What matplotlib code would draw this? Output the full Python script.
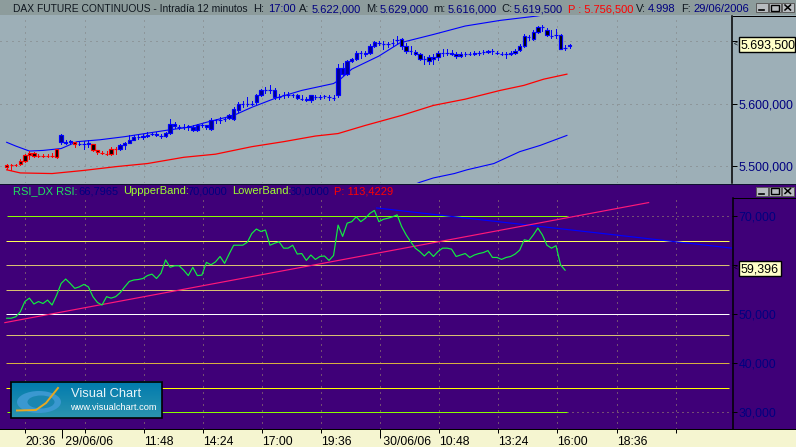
import numpy as np
import matplotlib
matplotlib.use("Agg")
import matplotlib.pyplot as plt
from matplotlib.patches import Rectangle, Ellipse

# ---------- data ----------
opens = [5499,5501,5502,5504,5508,5517,5521,5516,5516,5516,5516,
 5515,5549,5539,5539,5538,5535,5536,5536,5535,5525,5521,5520,5519,
 5528,5528,5533,5537,5542,5546,5547,5548,5551,5551,5548,5548,5553,5568,5563,5563,5564,5562,5558,5565,5565,5560,5573,5574,5576,5577,5576,5589,5599,5599,5599,5602,5614,5622,5621,5622,5610,5613,5614,
 5613,5614,5608,5607,5605,5610,5611,5612,5611,5609,5613,5657,5647,5668,5671,5681,5680,5681,5692,5697,5695,5695,5697,5701,
 5703,5692,5684,5683,5679,5671,5668,5674,5674,5681,5681,5681,5680,5676,5679,5679,5679,5681,5682,5683,5684,5681,5680,5680,5680,5681,5685,5692,5706,5704,5715,5722,5718,5708,5710,5710,5689,5692]
closes = [5501,5501.5,5502,5508,5517,5521,5516,5516,5516,5516,5516,
 5527,5539,5537,5540,5536,5535,5536,5537,5525,5522,5521,5519,5528,
 5528,5533,5537,5541,5546,5547,5548,5549,5552,5549,5548,5553,5568,5564,5563,5563,5562,5558,5565,5565,5563,5574,5573,5574,5576,5582,5591.5,5599.5,5599,5599,5600,5614,5622,5622,5621,5610,5611,5613,5614,
 5613,5609,5608,5605,5613,5610,5611,5612,5611,5609,5657,5647,5668,5671,5681,5681,5681,5692,5699,5697,5695,5695,5697,5701,
 5692,5684,5684,5679,5671,5671,5675,5671,5681,5681,5681,5680,5676,5679,5679,5679,5681,5681,5683,5684,5684,5681,5680,5680,5681,5684,5692,5708,5706,5715,5722,5722,5710,5708,5710,5688,5689,5693]
highs = [5503,5504,5504,5511,5519,5524,5523,5520,5520,5520,5521,
 5528,5552,5542,5542,5539,5538,5540,5542,5536,5526,5524,5524,5530,
 5530,5535,5539,5549,5549,5550,5552,5554,5554,5554,5552,5554,5575,5570,5566,5568,5566,5565,5567,5568,5566,5577,5576,5578,5578,5584,5594,5602,5604,5610,5604,5615,5623,5627,5629,5625,5616,5618,5618,
 5616,5616,5613,5611,5614,5614,5614,5614,5614,5614,5663,5665,5669,5673,5684,5684,5684,5695,5700,5700,5700,5699,5703,5708,
 5705,5697,5692,5685,5681,5676,5678,5679,5684,5687,5687,5685,5682,5682,5683,5682,5684,5684,5685,5686,5688,5684,5683,5683,5684,5688,5695,5712,5710,5717,5724,5725,5721,5718,5720,5712,5694,5695]
lows = [5496,5494,5500,5502,5506,5511,5514,5514,5514,5514,5514,
 5513,5536,5535,5536,5531,5533,5528,5531,5524,5520,5519,5517,5518,
 5519,5526,5528,5537,5541,5544,5544,5546,5549,5548,5545,5547,5552,5561,5560,5560,5558,5556,5556,5562,5560,5558,5569,5569,5572,5575,5574,5587,5595,5596,5597,5600,5612,5617,5617,5608,5608,5609,5610,
 5610,5607,5606,5604,5603,5607,5608,5609,5606,5606,5610,5646,5646,5666,5669,5673,5676,5680,5690,5694,5688,5690,5692,5695,
 5687,5681,5680,5678,5669,5664,5664,5663,5669,5676,5678,5678,5673,5675,5676,5677,5677,5678,5680,5681,5680,5680,5678,5673,5678,5680,5684,5690,5701,5701,5713,5716,5708,5705,5705,5687,5686,5689]
red_bars = list(range(0, 12)) + [15] + list(range(19, 25))

ma_x = [0,3,10,17,24,31,39,46,54,61,68,73,79,87,94,101,108.7,113.9,118.3,123.4]
ma_y = [5494,5489,5488,5493,5499,5504,5514,5519,5531,5539,5548,5552,5565,5581,5597,5607,5621,5629,5639,5647]
up_x = [0,2,5,8,12,15.5,20.5,26,35,40,44,50,54,59,65,72,73.5,76,82,86.6,94,101,108.7,116.8,123.4]
up_y = [5538,5532,5524,5525,5528,5539,5542,5547,5557,5562,5570,5581,5594,5608,5621,5632,5639,5655,5676,5697,5710.5,5724,5733,5740,5748]
lo_x = [88,91,94,98.6,101.4,107.3,113,117.5,123.4]
lo_y = [5465,5474,5481,5488,5494,5504,5523,5533,5549]

rsi = [49.2,49.2,49.5,50.5,52.6,53.3,52.1,52.6,52.2,52.9,51.9,53.9,56.3,57.2,56.3,55.3,55.6,56.1,55.6,53.6,
 52.4,51.9,53.6,53.3,53.6,54.4,55.6,56.7,57.0,57.1,57.3,57.9,58.2,57.3,58.4,61.1,59.6,59.9,59.9,59.0,
 57.9,59.6,57.9,58.0,60.6,60.1,60.7,61.8,60.4,62.3,64.1,64.1,64.1,64.7,66.5,67.4,66.9,67.2,64.1,64.5,
 64.8,63.5,63.5,64.1,62.3,62.4,61.0,62.1,61.2,61.8,61.9,61.0,62.0,68.2,65.9,68.6,68.9,69.9,68.9,69.6,
 70.6,71.2,68.9,69.4,69.6,69.9,70.3,67.9,66.2,64.8,63.5,62.8,61.9,62.8,61.8,62.8,63.5,63.5,63.3,61.8,
 62.1,62.4,61.6,62.1,62.4,62.6,63.0,61.6,61.6,61.2,61.6,61.8,62.3,63.1,65.2,65.0,66.2,67.6,66.2,64.1,
 63.5,64.0,60.1,59.0]
levels = [65, 60, 54.9, 50, 45.7, 40, 35]
level_colors = ['#ffff55', '#d8c070', '#d8c070', '#ffffff', '#d8c070', '#d8b040', '#ffff00']
bands = [70, 30]
pink_x, pink_y = [-0.4, 141.4], [48.3, 72.8]
trend_x, trend_y = [81.5, 159.8], [71.7, 63.5]

x_ticks = [4.1, 12.25, 17.3, 30.3, 43.3, 56.3, 69.3, 82.2, 95.3, 108.3, 121.3, 134.5, 147.5]
x_labels = ['20:36', ' 29/06/06', '', '11:48', '14:24', '17:00', '19:36', ' 30/06/06', '10:48', '13:24', '16:00', '18:36', '']
grid_x = [4.1, 17.3, 30.3, 43.3, 56.3, 69.3, 82.2, 95.3, 108.3, 121.3, 134.5, 147.5]
price_ticks = [5500, 5600, 5700]
price_labels = ['5.500,000', '5.600,000', '']
rsi_ticks = [30, 40, 50, 60, 70]
rsi_labels = ['30,000', '40,000', '50,000', '', '70,000']

# ---------- style ----------
W, H = 796, 447
BG_TOP = '#9dafb7'; BG_TITLE = '#8d9c9c'; PURPLE = '#3f0078'; CREAM = '#f5f5d0'; NAVY = '#000080'
FONT = 'Liberation Sans'
FS = 8.7
PX = 0.72
plt.rcParams['font.family'] = FONT

fig = plt.figure(figsize=(W/100, H/100), dpi=100, facecolor=PURPLE)

def axes_px(x0, y0, x1, y1, **kw):
    return fig.add_axes([x0/W, 1-y1/H, (x1-x0)/W, (y1-y0)/H], **kw)

# background chrome
bg = axes_px(0, 0, W, H, zorder=0); bg.set_xlim(0, W); bg.set_ylim(H, 0); bg.axis('off')
bg.add_patch(Rectangle((0, 0), W, 16, fc=BG_TITLE, ec='none'))
bg.add_patch(Rectangle((0, 15), W, 169, fc=BG_TOP, ec='none'))
bg.add_patch(Rectangle((0, 184), W, 245, fc=PURPLE, ec='none'))
bg.add_patch(Rectangle((0, 429), W, 18, fc=CREAM, ec='none'))

bar_w = 4.54
x0_px = 6.67
def xlim_for(a, b): return ((a-x0_px)/bar_w, (b-x0_px)/bar_w)
xl = xlim_for(0, 732)

# ---------- price panel ----------
ax = axes_px(0, 16, 732, 183, zorder=2)
ax.patch.set_alpha(0)
p_at = lambda y: 5500 + (166-y)/0.627
ax.set_xlim(*xl); ax.set_ylim(p_at(183), p_at(15.5))
for s in ax.spines.values(): s.set_visible(False)
ax.spines['right'].set_visible(True); ax.spines['right'].set_linewidth(1.1)
ax.yaxis.tick_right(); ax.set_yticks(price_ticks); ax.set_yticklabels(price_labels)
ax.tick_params(axis='y', length=3.8, width=PX, pad=1, labelsize=FS+0.2, labelcolor=NAVY)
ax.set_xticks([])
ax.hlines(price_ticks, xl[0], xl[1], color='#7f7f7f', lw=PX, ls=(0, (1, 5)), zorder=1)
ax.vlines(grid_x, p_at(183), p_at(16), color='#7f7f7f', lw=PX, ls=(0, (1, 5)), zorder=1)

xs = np.arange(len(closes))
for i in xs:
    o, c, h, l = opens[i], closes[i], highs[i], lows[i]
    col = '#ff0000' if i in red_bars else '#0000ff'
    face = 'black' if (i in red_bars or i >= 87) else '#000090'
    ax.vlines(i, l, h, color=col, lw=PX, zorder=3, antialiased=False)
    ax.bar(i, c-o, bottom=o, width=0.75, fc=face, ec=col, lw=0.85, zorder=4)
ax.plot(ma_x, ma_y, color='#ff0000', lw=0.9, zorder=2)
ax.plot(up_x, up_y, color='#0000ff', lw=0.8, zorder=2)
ax.plot(lo_x, lo_y, color='#0000ff', lw=0.8, zorder=2)

# ---------- RSI panel ----------
ar = axes_px(0, 184, 732, 429, zorder=2)
ar.patch.set_alpha(0)
r_at = lambda y: 70 - (y-216.3)/4.9
ar.set_xlim(*xl); ar.set_ylim(r_at(429), r_at(184))
for s in ar.spines.values(): s.set_visible(False)
ar.yaxis.tick_right(); ar.set_yticks(rsi_ticks); ar.set_yticklabels(rsi_labels)
ar.tick_params(axis='y', length=3.8, width=PX, pad=1, labelsize=FS+0.2, labelcolor=NAVY)
ar.set_xticks(x_ticks); ar.set_xticklabels(x_labels, ha='left')
ar.tick_params(axis='x', length=3.2, width=PX, pad=2.0, labelsize=FS, labelcolor='black')
for t, lab in zip(ar.xaxis.get_major_ticks(), x_labels):
    if '/' in lab:
        t.tick1line.set_markersize(6.5)

ar.vlines(grid_x, r_at(429), r_at(198), color='#a89a70', lw=PX, ls=(0, (1, 5)), zorder=1)
xlim_end = xlim_for(0, 729)
ar.hlines(levels, xlim_for(6, 0)[0], xlim_end[1], colors=level_colors, lw=PX, zorder=2)
ar.hlines(bands, xlim_for(7, 0)[0], xlim_for(567, 0)[0], color='#88ff00', lw=PX, zorder=2)
ar.hlines(bands, xlim_for(567, 0)[0], xl[1], color='#a89a70', lw=PX, ls=(0, (1, 4)), zorder=1)
ar.plot(trend_x, trend_y, color='#0000ff', lw=0.85, zorder=3)
ar.plot(pink_x, pink_y, color='#ff1878', lw=0.85, zorder=4)
ar.plot(np.arange(len(rsi)), rsi, color='#10f040', lw=0.85, zorder=5)

# ---------- foreground chrome ----------
fg = axes_px(0, 0, W, H, zorder=5); fg.set_xlim(0, W); fg.set_ylim(H, 0); fg.axis('off'); fg.patch.set_alpha(0)
fg.plot([0, W], [429, 429], color='black', lw=PX)
fg.plot([0, W], [183.5, 183.5], color='#101030', lw=PX)
fg.plot([732.5, W], [15.5, 15.5], color='black', lw=PX)
fg.plot([732.5, W], [198, 198], color='black', lw=PX)
fg.plot([732.5, 732.5], [198, 429], color='black', lw=1.1)

DARK = '#101820'
title_parts = [(13, 'DAX FUTURE CONTINUOUS - Intradía 12 minutos', DARK, 7.4), (253, 'H:', DARK, 8.0), (268, '17:00', NAVY, 8.0),
    (299, 'A:', DARK, 8.0), (312, '5.622,000', NAVY, 8.0), (366, 'M:', DARK, 8.0), (380, '5.629,000', NAVY, 8.0),
    (433, 'm:', DARK, 8.0), (448, '5.616,000', NAVY, 8.0), (501, 'C:', DARK, 8.0), (514, '5.619,500', NAVY, 8.0),
    (568, 'P : 5.756,500', '#ff0000', 8.0), (636, 'V:', DARK, 8.0), (648, '4.998', NAVY, 8.0),
    (681, 'F:', DARK, 8.0), (693, '29/06/2006', NAVY, 8.0)]
for x, s, c, fs in title_parts:
    fg.text(x, 12, s, color=c, fontsize=fs, va='baseline', ha='left')

legend_parts = [(13, 'RSI_DX RSI:', '#20e060'), (78, '66,7965', '#000080'), (123, 'UppperBand:', '#a0ff30'),
    (187, '70,0000', '#000080'), (232, 'LowerBand:', '#a0ff30'), (290, '30,0000', '#000080'),
    (334, 'P: 113,4229', '#ff0000')]
for x, s, c in legend_parts:
    fg.text(x, 194, s, color=c, fontsize=8.0, va='baseline', ha='left')

# value callouts
for (x0, x1, y0, y1, s, ya) in [(739, 795, 37, 51.5, '5.693,500', 44.5), (739, 780.5, 260.5, 275.5, '59,396', 268)]:
    fg.add_patch(Rectangle((x0, y0), x1-x0, y1-y0, fc='#ffffc8', ec='black', lw=1.0, zorder=6))
    fg.text(x0+2, ya+4.5, s, color='black', fontsize=FS+0.2, va='baseline', ha='left', zorder=7)
    fg.text(733.5, ya, '<', color='black', fontsize=5, va='center', ha='left')

# window buttons
for yb in (3, 186.5):
    for k, xb in enumerate((756, 769, 782)):
        fg.add_patch(Rectangle((xb, yb), 11.5, 9, fc='#b8bcc0', ec='#5a5a5a', lw=0.7))
        if k == 0:
            fg.plot([xb+2.5, xb+8], [yb+7, yb+7], color='black', lw=1.2)
        elif k == 1:
            fg.add_patch(Rectangle((xb+2, yb+1.5), 7.5, 6, fc='none', ec='black', lw=1.0))
        else:
            fg.plot([xb+3, xb+8.5], [yb+2, yb+7], color='black', lw=1.1)
            fg.plot([xb+3, xb+8.5], [yb+7, yb+2], color='black', lw=1.1)

# logo
grad = np.linspace(0, 1, 32)[:, None]
c0, c1 = np.array([0, 0.48, 0.68]), np.array([0.17, 0.58, 0.69])
img = (c0[None, None, :] * (1-grad[..., None]) + c1[None, None, :] * grad[..., None])
fg.imshow(img, extent=(10.5, 161.5, 418, 381.5), aspect='auto', zorder=6)
fg.set_xlim(0, W); fg.set_ylim(H, 0)
fg.add_patch(Rectangle((10.5, 381.5), 151, 36.5, fc='none', ec='black', lw=1.2, zorder=7))
fg.add_patch(Ellipse((39, 402), 44, 22, fc='#3a98d0', ec='none', zorder=7))
fg.add_patch(Ellipse((41, 402), 27, 13, fc='#1a86b0', ec='none', zorder=7))
fg.plot([17, 36, 46, 58], [410.5, 410, 403, 388], color='#e8a820', lw=1.4, zorder=8)
fg.text(71, 394, 'Visual Chart', color='#e8f4f8', fontsize=9.3, va='center', ha='left', zorder=8)
fg.text(70.5, 408, 'www.visualchart.com', color='white', fontsize=6.7, va='center', ha='left', zorder=8)

fig.savefig('out.png', dpi=100, facecolor=fig.get_facecolor())
